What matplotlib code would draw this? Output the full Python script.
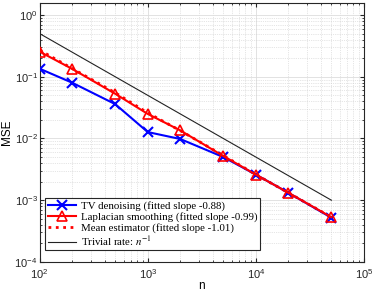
import matplotlib
matplotlib.use("Agg")
from matplotlib import pyplot as plt
from matplotlib.ticker import LogLocator, NullFormatter

n = [100, 200, 500, 1000, 2000, 5000, 10000, 20000, 50000]
tv = [0.135, 0.080, 0.036, 0.0127, 0.0098, 0.0050, 0.0026, 0.00132, 0.00052]
lap = [0.255, 0.134, 0.053, 0.025, 0.0135, 0.0052, 0.0026, 0.00132, 0.00053]
mean_est = [0.27, 0.136, 0.055, 0.026, 0.0134, 0.0053, 0.0026, 0.00132, 0.00053]
trivial = [50.0 / k for k in n]

labels = [
    "TV denoising (fitted slope -0.88)",
    "Laplacian smoothing (fitted slope -0.99)",
    "Mean estimator (fitted slope -1.01)",
    "Trivial rate: $n^{-1}$",
]

plt.rcParams["font.family"] = ["Liberation Sans", "DejaVu Sans"]
plt.rcParams["mathtext.fontset"] = "stix"

fig = plt.figure(figsize=(3.74, 2.92), dpi=100)
ax = fig.add_axes([0.106, 0.103, 0.867, 0.887])

ax.plot(n, tv, "-x", color="#0000ff", lw=1.5, ms=7, mew=1.5, label=labels[0], zorder=4)
ax.plot(n, lap, "-^", color="#ff0000", lw=1.5, ms=7, mew=1.2, mfc="none", label=labels[1], zorder=5)
ax.plot(n, mean_est, ":", color="#ff0000", lw=2, label=labels[2], zorder=3)
ax.plot(n, trivial, "-", color="#222222", lw=0.8, label=labels[3], zorder=2)

ax.set_xscale("log")
ax.set_yscale("log")
ax.set_xlim(1e2, 1e5)
ax.set_ylim(1e-4, 1.57)

ax.xaxis.set_minor_locator(LogLocator(base=10, subs=range(2, 10), numticks=20))
ax.yaxis.set_minor_locator(LogLocator(base=10, subs=range(2, 10), numticks=20))
ax.xaxis.set_minor_formatter(NullFormatter())
ax.yaxis.set_minor_formatter(NullFormatter())

ax.grid(True, which="major", color="#dddddd", lw=0.6, ls="-")
ax.grid(True, which="minor", color="#cccccc", lw=0.5, ls=":")
ax.set_axisbelow(True)

ax.tick_params(which="both", direction="in", top=True, right=True, labelsize=8, colors="#262626")
ax.tick_params(which="major", length=3)
ax.tick_params(axis="y", which="major", pad=1.5)
ax.tick_params(axis="x", which="major", pad=3.5)
ax.tick_params(which="minor", length=1.5)
for s in ax.spines.values():
    s.set_color("#262626")
    s.set_linewidth(0.8)

ax.set_xlabel("n", fontsize=8.5)
ax.set_ylabel("MSE", fontsize=8.5)
ax.xaxis.set_label_coords(0.5, -0.068)
ax.yaxis.set_label_coords(-0.083, 0.5)

leg = ax.legend(loc="lower left", bbox_to_anchor=(0.018, 0.045), prop={"family": "Liberation Serif", "size": 7.8},
                fancybox=False, edgecolor="#262626", framealpha=1, handlelength=2.6,
                handletextpad=0.4, borderpad=0.25, labelspacing=0.1, borderaxespad=0)
leg.get_frame().set_linewidth(0.8)

fig.savefig("out.png", dpi=100)
